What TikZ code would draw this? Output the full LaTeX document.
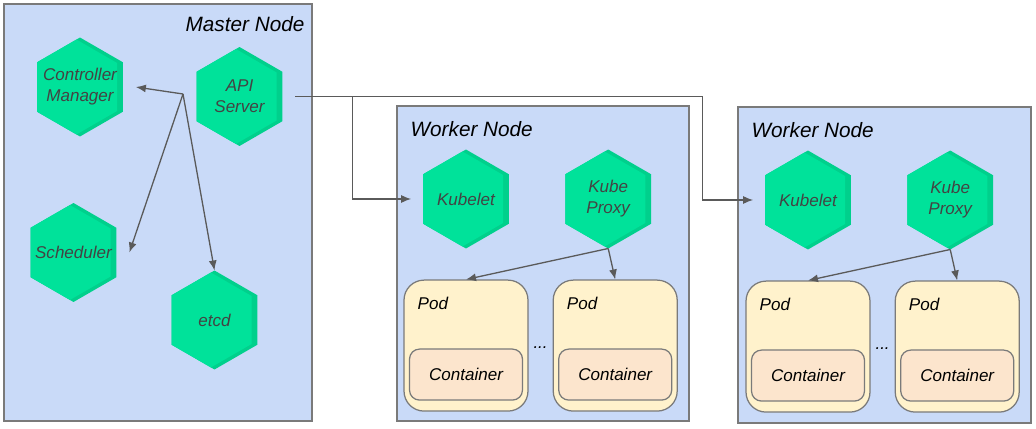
\documentclass[tikz,border=0pt]{standalone}
\usepackage{fontspec}
\setmainfont{Liberation Sans}
\usetikzlibrary{arrows.meta,calc,positioning,shapes.geometric}
\definecolor{nodeblue}{RGB}{201,218,248}
\definecolor{nodegray}{RGB}{122,122,122}
\definecolor{hexgreen}{RGB}{0,226,154}
\definecolor{hexdark}{RGB}{0,208,140}
\definecolor{hextext}{RGB}{67,67,67}
\definecolor{podyellow}{RGB}{255,242,204}
\definecolor{contorange}{RGB}{252,229,205}
\definecolor{linegray}{RGB}{90,90,90}
\tikzset{
hexstyle/.style={
  regular polygon,
  regular polygon sides=6,
  shape border rotate=30,
  minimum size=1.98cm,
  inner sep=-0.4cm,
  outer sep=0pt,
  fill=hexdark,
  text=hextext,
  align=center,
  font=\fontsize{9.7}{12}\selectfont\itshape,
  path picture={
    \fill[hexgreen] ([xshift=-0.09cm]path picture bounding box.center)
      +(90:0.96cm) -- +(150:0.96cm) -- +(210:0.96cm) -- +(270:0.96cm) -- +(330:0.96cm) -- +(30:0.96cm) -- cycle;
    },
  }
}
\tikzset{
nodebox/.style={
  rectangle,
  line width=0.03cm,
  inner sep=0pt,
  draw=nodegray,
  fill=nodeblue,
  }
}
\tikzset{
podbox/.style={
  rectangle,
  rounded corners=0.4cm,
  line width=0.025cm,
  minimum width=2.48cm,
  minimum height=2.62cm,
  draw=nodegray,
  fill=podyellow,
  }
}
\tikzset{
contbox/.style={
  rectangle,
  rounded corners=0.2cm,
  line width=0.025cm,
  minimum width=2.26cm,
  minimum height=1.02cm,
  draw=nodegray,
  fill=contorange,
  font=\fontsize{9.7}{12}\selectfont\itshape,
  }
}
\tikzset{
titlestyle/.style={
  font=\fontsize{11.8}{14}\selectfont\itshape,
  inner sep=0pt,
  }
}
\tikzset{
podlabel/.style={
  font=\fontsize{9.7}{12}\selectfont\itshape,
  inner sep=0pt,
  }
}
\tikzset{
bigline/.style={
  line width=0.026cm,
  draw=linegray,
  -{Latex[length=0.2cm,width=0.16cm]}
  }
}
\begin{document}
\begin{tikzpicture}[x=0.02cm,y=-0.02cm]
    \useasboundingbox (0,0) rectangle (1036,429);

    % master part
    \node[nodebox, minimum width=6.16cm, minimum height=8.34cm] (master) at (158,212.5) {};
    \node[titlestyle, anchor=east] (master_title) at ([shift={(-8,21)}]master.north east) {Master Node};
    \node[hexstyle] (cm) at (80,87) {Controller\\Manager};
    \node[hexstyle] (api) at (239.5,96.5) {API\\Server};
    \node[hexstyle] (sched) at (73.5,252.5) {Scheduler};
    \node[hexstyle] (etcd) at (214.5,320) {etcd};
    \coordinate (hub) at (183,94);

    % first worker part
    \node[nodebox, minimum width=5.84cm, minimum height=6.3cm] (worker1) at (543,263.5) {};
    \node[titlestyle, anchor=west] (worker1_title) at ([shift={(14,24)}]worker1.north west) {Worker Node};
    \node[hexstyle] (kubelet1) at (466,199) {Kubelet};
    \node[hexstyle, right=1.13cm of kubelet1] (proxy1) {Kube\\Proxy};
    \node[podbox, below=0.62cm of kubelet1] (pod1a) {};
    \node[podbox, right=0.48cm of pod1a] (pod1b) {};
    \node[podlabel, anchor=west] (pod1a_label) at ([shift={(14,24)}]pod1a.north west) {Pod};
    \node[podlabel, anchor=west] (pod1b_label) at ([shift={(14,24)}]pod1b.north west) {Pod};
    \node[contbox, above=0.22cm of pod1a.south] (cont1a) {Container};
    \node[contbox, above=0.22cm of pod1b.south] (cont1b) {Container};
    \node[podlabel] (dots1) at ($(pod1a.east)!0.5!(pod1b.west)+(0,2)$) {...};

    % second worker part
    \node[nodebox, minimum width=5.86cm, minimum height=6.32cm] (worker2) at (884.5,265) {};
    \node[titlestyle, anchor=west] (worker2_title) at ([shift={(14,24)}]worker2.north west) {Worker Node};
    \node[hexstyle] (kubelet2) at (808,200) {Kubelet};
    \node[hexstyle, right=1.13cm of kubelet2] (proxy2) {Kube\\Proxy};
    \node[podbox, below=0.62cm of kubelet2] (pod2a) {};
    \node[podbox, right=0.48cm of pod2a] (pod2b) {};
    \node[podlabel, anchor=west] (pod2a_label) at ([shift={(14,24)}]pod2a.north west) {Pod};
    \node[podlabel, anchor=west] (pod2b_label) at ([shift={(14,24)}]pod2b.north west) {Pod};
    \node[contbox, above=0.22cm of pod2a.south] (cont2a) {Container};
    \node[contbox, above=0.22cm of pod2b.south] (cont2b) {Container};
    \node[podlabel] (dots2) at ($(pod2a.east)!0.5!(pod2b.west)+(0,2)$) {...};

    % master edges
    \draw[bigline] (hub) -- ([xshift=0.26cm]cm.east);
    \draw[bigline] (hub) -- ([xshift=0.26cm]sched.east);
    \draw[bigline] (hub) -- (etcd.north);

    % api edges
    \draw[bigline, shorten <=0.26cm, shorten >=0.24cm] (api.east) -- ++(70,0) |- (kubelet1.west);
    \draw[bigline, shorten <=0.26cm, shorten >=0.24cm] (api.east) -- ++(420,0) |- (kubelet2.west);

    % proxy edges
    \draw[bigline] (proxy1.south) -- (pod1a.north);
    \draw[bigline] (proxy1.south) -- (pod1b.north);
    \draw[bigline] (proxy2.south) -- (pod2a.north);
    \draw[bigline] (proxy2.south) -- (pod2b.north);
\end{tikzpicture}
\end{document}
